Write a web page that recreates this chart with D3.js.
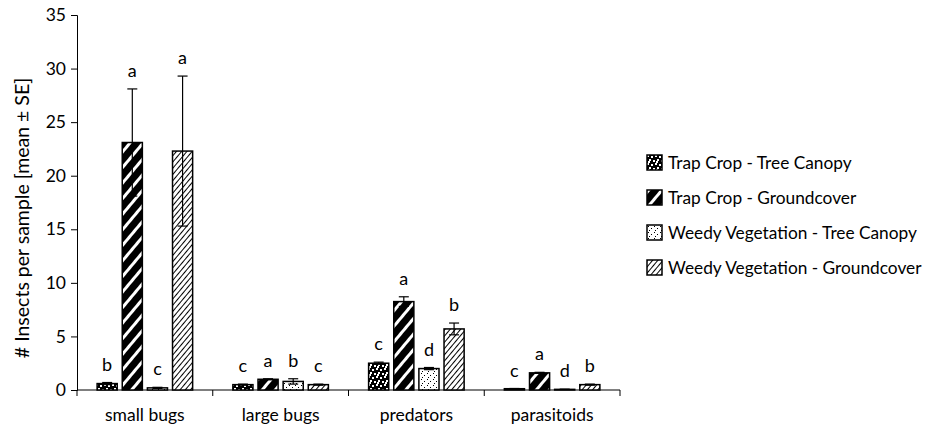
<!DOCTYPE html>
<html>
<head>
<meta charset="utf-8">
<script src="https://cdn.jsdelivr.net/npm/d3@7"></script>
<style>
  body { margin: 0; background: #fff; }
  text { font-family: Lato, "Open Sans", sans-serif; fill: #000; }
</style>
</head>
<body>
<div id="chart"></div>
<script>
const categories = ['small bugs', 'large bugs', 'predators', 'parasitoids'];
const series = ['Trap Crop - Tree Canopy', 'Trap Crop - Groundcover', 'Weedy Vegetation - Tree Canopy', 'Weedy Vegetation - Groundcover'];
// means per series, in category order
const means = [
  [0.6, 0.5, 2.5, 0.12],
  [23.1, 1.0, 8.25, 1.6],
  [0.2, 0.8, 2.0, 0.06],
  [22.3, 0.5, 5.7, 0.5]
];
const errors = [
  [0.1, 0.05, 0.1, 0.02],
  [5.0, 0.05, 0.45, 0.05],
  [0.05, 0.25, 0.1, 0.01],
  [7.0, 0.05, 0.55, 0.05]
];
const letters = [
  ['b', 'c', 'c', 'c'],
  ['a', 'a', 'a', 'a'],
  ['c', 'b', 'd', 'd'],
  ['a', 'c', 'b', 'b']
];
const yTicks = [0, 5, 10, 15, 20, 25, 30, 35];

const W = 938, H = 429;
const svg = d3.select('#chart').append('svg')
    .attr('width', W)
    .attr('height', H);

// fill patterns
const defs = svg.append('defs');
let p = defs.append('pattern').attr('id', 'p0').attr('patternUnits', 'userSpaceOnUse')
    .attr('width', 8).attr('height', 8);
p.append('rect').attr('width', 8).attr('height', 8).attr('fill', '#000');
[[0,0],[4,1],[2,4],[6,5],[1,6]].forEach(d => {
  p.append('rect').attr('x', d[0]).attr('y', d[1]).attr('width', 2).attr('height', 2).attr('fill', '#fff');
});

p = defs.append('pattern').attr('id', 'p1').attr('patternUnits', 'userSpaceOnUse')
    .attr('width', 10).attr('height', 10).attr('patternTransform', 'rotate(40)');
p.append('rect').attr('width', 10).attr('height', 10).attr('fill', '#000');
p.append('rect').attr('x', 0).attr('width', 3).attr('height', 10).attr('fill', '#fff');

p = defs.append('pattern').attr('id', 'p2').attr('patternUnits', 'userSpaceOnUse')
    .attr('width', 6).attr('height', 6);
p.append('rect').attr('width', 6).attr('height', 6).attr('fill', '#fff');
[[1,1],[4,3],[2,5]].forEach(d => {
  p.append('rect').attr('x', d[0]).attr('y', d[1]).attr('width', 1).attr('height', 1).attr('fill', '#000');
});

p = defs.append('pattern').attr('id', 'p3').attr('patternUnits', 'userSpaceOnUse')
    .attr('width', 4).attr('height', 4).attr('patternTransform', 'rotate(40)');
p.append('rect').attr('width', 4).attr('height', 4).attr('fill', '#fff');
p.append('rect').attr('x', 0).attr('width', 1).attr('height', 4).attr('fill', '#000');

const fills = ['url(#p0)', 'url(#p1)', 'url(#p2)', 'url(#p3)'];

const x0 = d3.scaleBand().domain(categories).range([77, 620]);
const x1 = d3.scaleBand().domain(series).range([0, x0.bandwidth()])
    .paddingInner(0.2).paddingOuter(0.8);
const y = d3.scaleLinear().domain([0, 35]).range([390, 15]);

// y axis
const yAxis = svg.append('g')
    .attr('transform', 'translate(77,0)')
    .call(d3.axisLeft(y).tickValues(yTicks).tickSize(6).tickPadding(5));
yAxis.selectAll('text').style('font-size', '17.5px');

// x axis
const xAxis = svg.append('g').attr('transform', 'translate(0,390)');
xAxis.append('line').attr('x1', 77).attr('x2', 620).attr('stroke', '#000');
xAxis.selectAll('line.tk')
  .data([77].concat(categories.map(c => x0(c) + x0.bandwidth())))
  .join('line')
    .attr('class', 'tk')
    .attr('x1', d => d).attr('x2', d => d)
    .attr('y1', 0).attr('y2', 6)
    .attr('stroke', '#000');
xAxis.selectAll('text')
  .data(categories)
  .join('text')
    .attr('x', d => x0(d) + x0.bandwidth() / 2)
    .attr('y', 31)
    .attr('text-anchor', 'middle')
    .style('font-size', '17.5px')
    .text(d => d);
svg.selectAll('.domain').attr('stroke', '#000');

// bars
const rows = [];
series.forEach((s, si) => {
  categories.forEach((c, ci) => {
    rows.push({ s, si, c, v: means[si][ci], e: errors[si][ci], l: letters[si][ci] });
  });
});

const g = svg.append('g');
g.selectAll('rect.bar')
  .data(rows)
  .join('rect')
    .attr('class', 'bar')
    .attr('x', d => x0(d.c) + x1(d.s))
    .attr('y', d => y(d.v))
    .attr('width', x1.bandwidth())
    .attr('height', d => y(0) - y(d.v))
    .attr('fill', d => fills[d.si])
    .attr('stroke', '#000')
    .attr('stroke-width', 1.5);

// error bars
const cx = d => x0(d.c) + x1(d.s) + x1.bandwidth() / 2;
const eb = g.selectAll('g.err').data(rows).join('g').attr('class', 'err');
eb.append('line')
    .attr('x1', cx).attr('x2', cx)
    .attr('y1', d => y(d.v - d.e))
    .attr('y2', d => y(d.v + d.e))
    .attr('stroke', '#000').attr('stroke-width', 1.2);
eb.append('line')
    .attr('x1', d => cx(d) - 5).attr('x2', d => cx(d) + 5)
    .attr('y1', d => y(d.v + d.e))
    .attr('y2', d => y(d.v + d.e))
    .attr('stroke', '#000').attr('stroke-width', 1.2);
eb.append('line')
    .attr('x1', d => cx(d) - 5).attr('x2', d => cx(d) + 5)
    .attr('y1', d => y(d.v - d.e))
    .attr('y2', d => y(d.v - d.e))
    .attr('stroke', '#000').attr('stroke-width', 1.2);

// letters
g.selectAll('text.lt')
  .data(rows)
  .join('text')
    .attr('class', 'lt')
    .attr('x', cx)
    .attr('y', d => y(d.v + d.e) - 12)
    .attr('text-anchor', 'middle')
    .style('font-size', '18px')
    .text(d => d.l);

// y title
svg.append('text')
    .attr('transform', 'translate(29,218) rotate(-90)')
    .attr('text-anchor', 'middle')
    .style('font-size', '19.5px')
    .text('# Insects per sample [mean ± SE]');

// legend
const leg = svg.append('g').attr('transform', 'translate(647,155)');
const li = leg.selectAll('g').data(series).join('g')
    .attr('transform', (d, i) => `translate(0,${i * 35})`);
li.append('rect')
    .attr('width', 15).attr('height', 15)
    .attr('fill', (d, i) => fills[i])
    .attr('stroke', '#000').attr('stroke-width', 1.5);
li.append('text')
    .attr('x', 21).attr('y', 14)
    .style('font-size', '17.3px')
    .text(d => d);
</script>
</body>
</html>
